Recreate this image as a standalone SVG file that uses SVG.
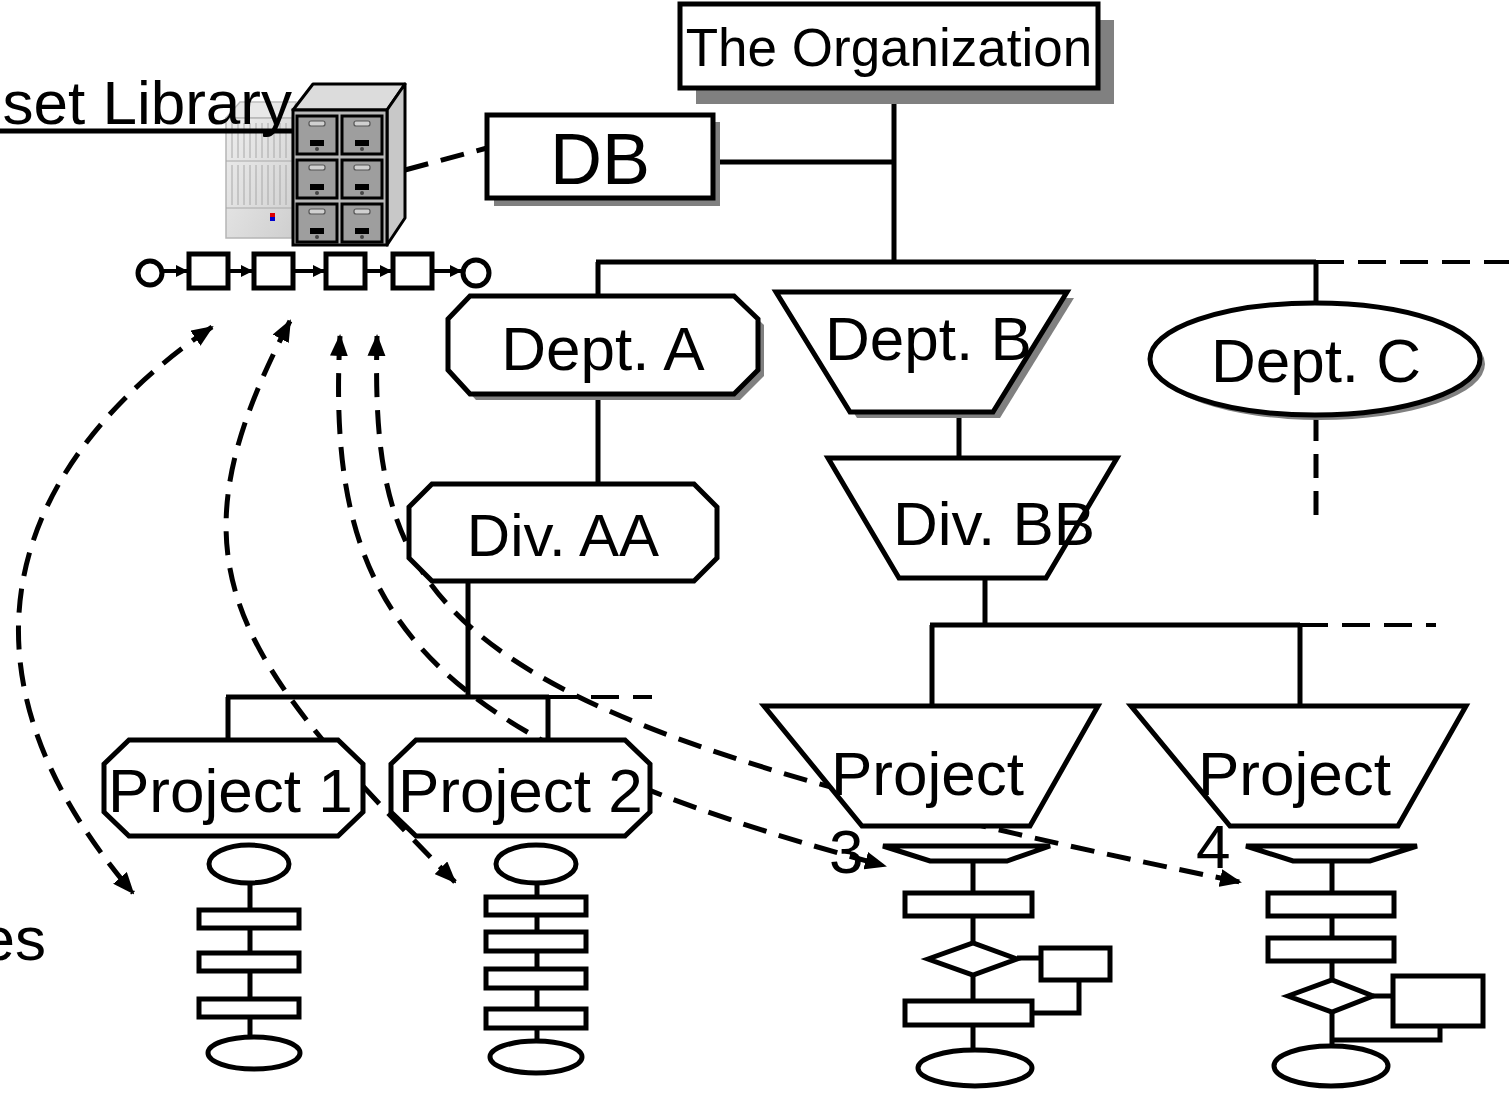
<svg xmlns="http://www.w3.org/2000/svg" width="1509" height="1096" viewBox="0 0 1509 1096">
  <style>
    text { font-family: "Liberation Sans", Arial, sans-serif; fill: #000; }
    .node { fill: #fff; stroke: #000; stroke-width: 5; stroke-linejoin: miter; }
    .shadow { fill: #808080; stroke: none; }
    .line { fill: none; stroke: #000; stroke-width: 5; }
    .dash { fill: none; stroke: #000; stroke-width: 5; stroke-dasharray: 24 13; }
    .dashbus { fill: none; stroke: #000; stroke-width: 4; stroke-dasharray: 28 14; }
    .fc { fill: #fff; stroke: #000; stroke-width: 5; }
    .lbl { font-size: 62px; }
  </style>
  <defs>
    <marker id="arrow" viewBox="0 0 22 18" refX="20" refY="9" markerWidth="22" markerHeight="18" markerUnits="userSpaceOnUse" orient="auto-start-reverse">
      <path d="M0,0 L22,9 L0,18 z" fill="#000"/>
    </marker>
    <marker id="small" viewBox="0 0 12 12" refX="11" refY="6" markerWidth="12" markerHeight="12" markerUnits="userSpaceOnUse" orient="auto">
      <path d="M0,0 L12,6 L0,12 z" fill="#000"/>
    </marker>
    <linearGradient id="serverFace" x1="0" y1="0" x2="1" y2="1">
      <stop offset="0" stop-color="#eeeeee"/>
      <stop offset="1" stop-color="#cfcfcf"/>
    </linearGradient>
    <!-- one cabinet drawer -->
    <g id="drawer">
      <rect x="0" y="0" width="40" height="38" fill="#9e9e9e" stroke="#000" stroke-width="3"/>
      <rect x="12" y="5" width="16" height="5" rx="2" fill="#d0d0d0" stroke="#555" stroke-width="1.2"/>
      <rect x="13" y="24" width="14" height="6" fill="#000"/>
      <circle cx="20" cy="33" r="2" fill="#444"/>
    </g>
  </defs>

  <!-- connectors -->
  <g id="connectors">
    <!-- organization trunk -->
    <line class="line" x1="894" y1="88" x2="894" y2="262"/>
    <line class="line" x1="713" y1="162" x2="894" y2="162"/>
    <line class="line" x1="596" y1="262" x2="1316" y2="262"/>
    <line class="dashbus" x1="1316" y1="262" x2="1509" y2="262"/>
    <line class="line" x1="598" y1="262" x2="598" y2="296"/>
    <line class="line" x1="1316" y1="262" x2="1316" y2="303"/>
    <line class="dash" x1="1316" y1="417" x2="1316" y2="518"/>
    <!-- cabinet to DB -->
    <line class="dash" x1="405" y1="170" x2="487" y2="148"/>
    <!-- Dept A branch -->
    <line class="line" x1="598" y1="394" x2="598" y2="484"/>
    <line class="line" x1="468" y1="581" x2="468" y2="697"/>
    <line class="line" x1="226" y1="697" x2="549" y2="697"/>
    <line class="dashbus" x1="549" y1="697" x2="652" y2="697"/>
    <line class="line" x1="228" y1="697" x2="228" y2="740"/>
    <line class="line" x1="548" y1="697" x2="548" y2="740"/>
    <!-- Dept B branch -->
    <line class="line" x1="959" y1="412" x2="959" y2="458"/>
    <line class="line" x1="985" y1="578" x2="985" y2="625"/>
    <line class="line" x1="930" y1="625" x2="1300" y2="625"/>
    <line class="dashbus" x1="1300" y1="625" x2="1436" y2="625"/>
    <line class="line" x1="932" y1="625" x2="932" y2="706"/>
    <line class="line" x1="1300" y1="625" x2="1300" y2="706"/>
    <!-- process chain -->
    <g stroke="#000" stroke-width="4" fill="none">
      <line x1="162" y1="271" x2="187" y2="271" marker-end="url(#small)"/>
      <line x1="229" y1="271" x2="252" y2="271" marker-end="url(#small)"/>
      <line x1="294" y1="271" x2="324" y2="271" marker-end="url(#small)"/>
      <line x1="366" y1="271" x2="391" y2="271" marker-end="url(#small)"/>
      <line x1="433" y1="271" x2="461" y2="271" marker-end="url(#small)"/>
    </g>
    <!-- deployment / feedback paths -->
    <path class="dash" d="M212,327 C30,450 -75,650 133,893" marker-start="url(#arrow)" marker-end="url(#arrow)"/>
    <path class="dash" d="M290,321 C165,560 225,650 455,882" marker-start="url(#arrow)" marker-end="url(#arrow)"/>
    <path class="dash" d="M340,336 C325,620 420,740 885,866" marker-start="url(#arrow)" marker-end="url(#arrow)"/>
    <path class="dash" d="M377,336 C370,620 440,720 1240,882" marker-start="url(#arrow)" marker-end="url(#arrow)"/>
  </g>

  <!-- asset library: server behind the caption -->
  <g id="server">
    <polygon points="226,118 240,102 296,102 292,118" fill="#e8e8e8" stroke="#bdbdbd" stroke-width="1.5"/>
    <rect x="226" y="118" width="66" height="120" fill="url(#serverFace)" stroke="#b5b5b5" stroke-width="1.5"/>
    <g stroke="#a8a8a8" stroke-width="1">
      <line x1="232" y1="123" x2="232" y2="158"/><line x1="238" y1="123" x2="238" y2="158"/>
      <line x1="244" y1="123" x2="244" y2="158"/><line x1="250" y1="123" x2="250" y2="158"/>
      <line x1="256" y1="123" x2="256" y2="158"/><line x1="262" y1="123" x2="262" y2="158"/>
      <line x1="268" y1="123" x2="268" y2="158"/><line x1="274" y1="123" x2="274" y2="158"/>
      <line x1="280" y1="123" x2="280" y2="158"/><line x1="286" y1="123" x2="286" y2="158"/>
      <line x1="232" y1="165" x2="232" y2="205"/><line x1="238" y1="165" x2="238" y2="205"/>
      <line x1="244" y1="165" x2="244" y2="205"/><line x1="250" y1="165" x2="250" y2="205"/>
      <line x1="256" y1="165" x2="256" y2="205"/><line x1="262" y1="165" x2="262" y2="205"/>
      <line x1="268" y1="165" x2="268" y2="205"/><line x1="274" y1="165" x2="274" y2="205"/>
      <line x1="280" y1="165" x2="280" y2="205"/><line x1="286" y1="165" x2="286" y2="205"/>
      <line x1="226" y1="161" x2="292" y2="161"/><line x1="226" y1="208" x2="292" y2="208"/>
    </g>
    <rect x="270" y="213" width="5" height="4" fill="#d00"/>
    <rect x="270" y="217" width="5" height="4" fill="#00c"/>
  </g>

  <!-- asset library caption -->
  <g id="library-caption">
    <line class="line" x1="0" y1="131" x2="296" y2="131" stroke-width="4"/>
    <text class="lbl" x="292" y="124" text-anchor="end">set Library</text>
  </g>

  <!-- file cabinet -->
  <g id="asset-library">
    <polygon points="293,110 313,84 405,84 387,110" fill="#dcdcdc" stroke="#000" stroke-width="3" stroke-linejoin="round"/>
    <polygon points="387,110 405,84 405,218 387,245" fill="#c8c8c8" stroke="#000" stroke-width="3" stroke-linejoin="round"/>
    <rect x="293" y="110" width="94" height="135" fill="#b8b8b8" stroke="#000" stroke-width="3"/>
    <use href="#drawer" x="297" y="116"/>
    <use href="#drawer" x="342" y="116"/>
    <use href="#drawer" x="297" y="160"/>
    <use href="#drawer" x="342" y="160"/>
    <use href="#drawer" x="297" y="204"/>
    <use href="#drawer" x="342" y="204"/>
  </g>

  <!-- process chain nodes -->
  <g id="process-chain" fill="#fff" stroke="#000" stroke-width="5">
    <circle cx="150" cy="273" r="12"/>
    <rect x="189" y="254" width="39" height="34"/>
    <rect x="254" y="254" width="39" height="34"/>
    <rect x="326" y="254" width="39" height="34"/>
    <rect x="393" y="254" width="39" height="34"/>
    <circle cx="476" cy="273" r="13"/>
  </g>

  <g id="the-organization">
    <rect class="shadow" x="696" y="20" width="418" height="84"/>
    <rect class="node" x="680" y="4" width="418" height="84"/>
    <text x="889" y="66" font-size="53" text-anchor="middle">The Organization</text>
  </g>

  <g id="db">
    <rect class="shadow" x="494" y="122" width="226" height="84"/>
    <rect class="node" x="487" y="115" width="226" height="83"/>
    <text x="600" y="184" font-size="72" text-anchor="middle">DB</text>
  </g>

  <g id="dept-a">
    <polygon class="shadow" points="476,302 740,302 764,325 764,376 740,400 476,400 454,376 454,325"/>
    <polygon class="node" points="470,296 734,296 758,319 758,370 734,394 470,394 448,370 448,319"/>
    <text class="lbl" x="603" y="370" text-anchor="middle">Dept. A</text>
  </g>

  <g id="dept-b">
    <polygon class="shadow" points="783,298 1074,298 1000,418 857,418"/>
    <polygon class="node" points="776,292 1067,292 993,412 850,412"/>
    <text class="lbl" x="825" y="360">Dept. B</text>
  </g>

  <g id="dept-c">
    <ellipse class="shadow" cx="1320" cy="364" rx="165" ry="56"/>
    <ellipse class="node" cx="1315" cy="359" rx="165" ry="56"/>
    <text class="lbl" x="1316" y="382" text-anchor="middle">Dept. C</text>
  </g>

  <g id="div-aa">
    <polygon class="node" points="432,484 694,484 717,507 717,558 694,581 432,581 409,558 409,507"/>
    <text x="563" y="556" font-size="60" text-anchor="middle">Div. AA</text>
  </g>

  <g id="div-bb">
    <polygon class="node" points="828,458 1117,458 1046,578 899,578"/>
    <text class="lbl" x="893" y="545">Div. BB</text>
  </g>

  <g id="project-1">
    <polygon class="node" points="129,740 338,740 363,764 363,812 338,836 129,836 104,812 104,764"/>
    <text class="lbl" x="108" y="812">Project 1</text>
  </g>

  <g id="project-2">
    <polygon class="node" points="416,740 625,740 650,764 650,812 625,836 416,836 391,812 391,764"/>
    <text class="lbl" x="398" y="812">Project 2</text>
  </g>

  <g id="project-3">
    <polygon class="node" points="764,706 1098,706 1030,826 862,826"/>
    <text class="lbl" x="831" y="795">Project</text>
    <text class="lbl" x="829" y="873">3</text>
  </g>

  <g id="project-4">
    <polygon class="node" points="1131,706 1466,706 1398,826 1230,826"/>
    <text class="lbl" x="1198" y="795">Project</text>
    <text class="lbl" x="1196" y="868">4</text>
  </g>

  <!-- left caption fragment -->
  <g id="processes-caption">
    <text class="lbl" x="46" y="960" text-anchor="end">es</text>
  </g>

  <!-- project 1 process -->
  <g id="process-1">
    <line class="line" x1="250" y1="883" x2="250" y2="1037"/>
    <ellipse class="fc" cx="249" cy="864" rx="40" ry="19"/>
    <rect class="fc" x="199" y="910" width="100" height="18"/>
    <rect class="fc" x="199" y="953" width="100" height="18"/>
    <rect class="fc" x="199" y="999" width="100" height="18"/>
    <ellipse class="fc" cx="254" cy="1053" rx="46" ry="16"/>
  </g>

  <!-- project 2 process -->
  <g id="process-2">
    <line class="line" x1="537" y1="883" x2="537" y2="1041"/>
    <ellipse class="fc" cx="536" cy="864" rx="40" ry="19"/>
    <rect class="fc" x="486" y="897" width="100" height="18"/>
    <rect class="fc" x="486" y="932" width="100" height="19"/>
    <rect class="fc" x="486" y="969" width="100" height="19"/>
    <rect class="fc" x="486" y="1009" width="100" height="19"/>
    <ellipse class="fc" cx="536" cy="1057" rx="46" ry="16"/>
  </g>

  <!-- project 3 process -->
  <g id="process-3">
    <polyline class="line" points="1079,981 1079,1013 1033,1013"/>
    <line class="line" x1="1017" y1="958" x2="1040" y2="958"/>
    <line class="line" x1="973" y1="861" x2="973" y2="1050"/>
    <polygon class="fc" points="883,846 1050,846 1007,861 930,861"/>
    <rect class="fc" x="905" y="893" width="127" height="23"/>
    <polygon class="fc" points="928,959 973,943 1017,959 973,975"/>
    <rect class="fc" x="1041" y="948" width="69" height="32"/>
    <rect class="fc" x="905" y="1001" width="127" height="24"/>
    <ellipse class="fc" cx="975" cy="1068" rx="57" ry="18"/>
  </g>

  <!-- project 4 process -->
  <g id="process-4">
    <polyline class="line" points="1440,1027 1440,1040 1332,1040"/>
    <line class="line" x1="1373" y1="996" x2="1392" y2="996"/>
    <line class="line" x1="1332" y1="861" x2="1332" y2="1048"/>
    <polygon class="fc" points="1246,846 1417,846 1370,861 1293,861"/>
    <rect class="fc" x="1268" y="893" width="126" height="23"/>
    <rect class="fc" x="1268" y="938" width="126" height="23"/>
    <polygon class="fc" points="1288,996 1332,980 1373,996 1332,1012"/>
    <rect class="fc" x="1393" y="976" width="90" height="50"/>
    <ellipse class="fc" cx="1331" cy="1066" rx="57" ry="20"/>
  </g>
</svg>
